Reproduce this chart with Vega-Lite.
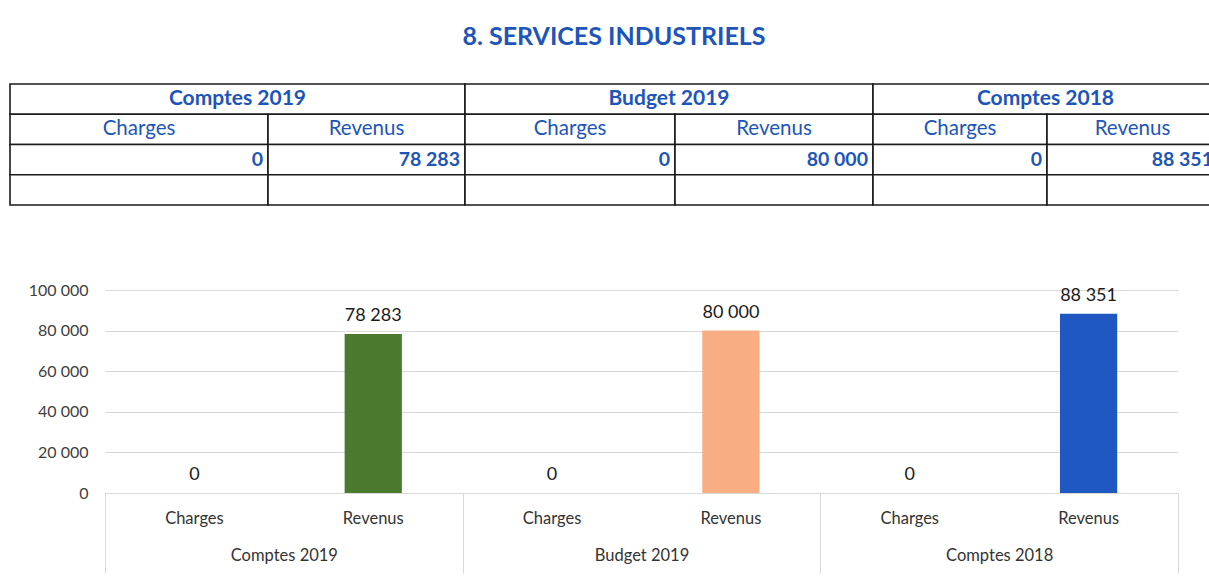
{
  "$schema": "https://vega.github.io/schema/vega-lite/v6.json",
  "background": "white",
  "padding": {"left": 9, "top": 25, "right": 0, "bottom": 0},
  "title": {"text": "8. SERVICES INDUSTRIELS", "font": "Lato", "fontSize": 25, "fontWeight": "bold", "color": "#1D55B8", "anchor": "middle", "offset": 33, "dx": 0},
  "config": {
    "view": {"stroke": null},
    "font": "Lato",
    "locale": {"number": {"decimal": ",", "thousands": " ", "grouping": [3], "currency": ["", " €"]}}
  },
  "datasets": {
    "cells": [
      {"c0": 0, "c1": 2, "r0": 0, "r1": 1}, {"c0": 2, "c1": 4, "r0": 0, "r1": 1}, {"c0": 4, "c1": 6, "r0": 0, "r1": 1},
      {"c0": 0, "c1": 1, "r0": 1, "r1": 2}, {"c0": 1, "c1": 2, "r0": 1, "r1": 2}, {"c0": 2, "c1": 3, "r0": 1, "r1": 2},
      {"c0": 3, "c1": 4, "r0": 1, "r1": 2}, {"c0": 4, "c1": 5, "r0": 1, "r1": 2}, {"c0": 5, "c1": 6, "r0": 1, "r1": 2},
      {"c0": 0, "c1": 1, "r0": 2, "r1": 3}, {"c0": 1, "c1": 2, "r0": 2, "r1": 3}, {"c0": 2, "c1": 3, "r0": 2, "r1": 3},
      {"c0": 3, "c1": 4, "r0": 2, "r1": 3}, {"c0": 4, "c1": 5, "r0": 2, "r1": 3}, {"c0": 5, "c1": 6, "r0": 2, "r1": 3},
      {"c0": 0, "c1": 1, "r0": 3, "r1": 4}, {"c0": 1, "c1": 2, "r0": 3, "r1": 4}, {"c0": 2, "c1": 3, "r0": 3, "r1": 4},
      {"c0": 3, "c1": 4, "r0": 3, "r1": 4}, {"c0": 4, "c1": 5, "r0": 3, "r1": 4}, {"c0": 5, "c1": 6, "r0": 3, "r1": 4}
    ],
    "heads": [
      {"label": "Comptes 2019", "cm": 1, "rm": 0.5},
      {"label": "Budget 2019", "cm": 3, "rm": 0.5},
      {"label": "Comptes 2018", "cm": 5, "rm": 0.5}
    ],
    "subs": [
      {"label": "Charges", "cm": 0.5, "rm": 1.5},
      {"label": "Revenus", "cm": 1.5, "rm": 1.5},
      {"label": "Charges", "cm": 2.5, "rm": 1.5},
      {"label": "Revenus", "cm": 3.5, "rm": 1.5},
      {"label": "Charges", "cm": 4.5, "rm": 1.5},
      {"label": "Revenus", "cm": 5.5, "rm": 1.5}
    ],
    "vals": [
      {"value": 0, "c1": 1, "rm": 2.5},
      {"value": 78283, "c1": 2, "rm": 2.5},
      {"value": 0, "c1": 3, "rm": 2.5},
      {"value": 80000, "c1": 4, "rm": 2.5},
      {"value": 0, "c1": 5, "rm": 2.5},
      {"value": 88351, "c1": 6, "rm": 2.5}
    ],
    "bars": [
      {"key": "Comptes 2019|Charges", "group": "Comptes 2019", "type": "Charges", "value": 0},
      {"key": "Comptes 2019|Revenus", "group": "Comptes 2019", "type": "Revenus", "value": 78283},
      {"key": "Budget 2019|Charges", "group": "Budget 2019", "type": "Charges", "value": 0},
      {"key": "Budget 2019|Revenus", "group": "Budget 2019", "type": "Revenus", "value": 80000},
      {"key": "Comptes 2018|Charges", "group": "Comptes 2018", "type": "Charges", "value": 0},
      {"key": "Comptes 2018|Revenus", "group": "Comptes 2018", "type": "Revenus", "value": 88351}
    ]
  },
  "columns": 1,
  "spacing": 76,
  "concat": [
    {
      "width": 1108,
      "height": 121,
      "resolve": {"scale": {"x": "independent"}},
      "layer": [
        {
          "data": {"name": "cells"},
          "mark": {"type": "rect", "fill": "white", "stroke": "#1a1a1a", "strokeWidth": 1.6},
          "encoding": {
            "x": {"field": "c0", "type": "quantitative", "scale": {"domain": [0, 1, 2, 3, 4, 5, 6], "range": [-95, 163, 360, 570, 768, 942, 1113], "nice": false, "zero": false}, "axis": null},
            "x2": {"field": "c1"},
            "y": {"field": "r0", "type": "quantitative", "scale": {"domain": [0, 4], "range": [0, 121], "nice": false, "zero": false}, "axis": null},
            "y2": {"field": "r1"}
          }
        },
        {
          "data": {"name": "heads"},
          "mark": {"type": "text", "font": "Lato", "fontSize": 21, "fontWeight": "bold", "color": "#1D55B8", "baseline": "middle", "align": "center"},
          "encoding": {
            "x": {"field": "cm", "type": "quantitative", "scale": {"domain": [0, 2, 4, 6], "range": [-95, 360, 768, 1113], "nice": false, "zero": false}, "axis": null},
            "y": {"field": "rm", "type": "quantitative"},
            "text": {"field": "label", "type": "nominal"}
          }
        },
        {
          "data": {"name": "subs"},
          "mark": {"type": "text", "font": "Lato", "fontSize": 20.5, "color": "#1D55B8", "baseline": "middle", "align": "center"},
          "encoding": {
            "x": {"field": "cm", "type": "quantitative", "scale": {"domain": [0, 1, 2, 3, 4, 5, 6], "range": [-95, 163, 360, 570, 768, 942, 1113], "nice": false, "zero": false}, "axis": null},
            "y": {"field": "rm", "type": "quantitative"},
            "text": {"field": "label", "type": "nominal"}
          }
        },
        {
          "data": {"name": "vals"},
          "mark": {"type": "text", "font": "Lato", "fontSize": 19.5, "fontWeight": "bold", "color": "#1D55B8", "baseline": "middle", "align": "right", "dx": -5},
          "encoding": {
            "x": {"field": "c1", "type": "quantitative", "scale": {"domain": [0, 1, 2, 3, 4, 5, 6], "range": [-95, 163, 360, 570, 768, 942, 1113], "nice": false, "zero": false}, "axis": null},
            "y": {"field": "rm", "type": "quantitative"},
            "text": {"field": "value", "type": "quantitative", "format": ",d"}
          }
        }
      ]
    },
    {
      "width": 1073,
      "height": 203,
      "data": {"name": "bars"},
      "layer": [
        {
          "layer": [
            {
              "mark": {"type": "bar", "width": {"band": 0.32}},
              "encoding": {
                "x": {"field": "key", "type": "nominal", "sort": null, "scale": {"paddingInner": 0, "paddingOuter": 0},
                  "axis": {"orient": "bottom", "title": null, "labelExpr": "split(datum.value, '|')[1]", "domain": false, "ticks": false, "labelPadding": 17, "labelFontSize": 16.5, "labelColor": "#333333", "labelAngle": 0, "labelFont": "Lato"}},
                "y": {"field": "value", "type": "quantitative", "scale": {"domain": [0, 100000], "nice": false},
                  "axis": {"title": null, "values": [0, 20000, 40000, 60000, 80000, 100000], "format": ",d", "domain": false, "ticks": false, "labelPadding": 17, "minExtent": 95, "labelFontSize": 16, "labelColor": "#404040", "gridColor": "#d9d9d9", "labelFont": "Lato"}},
                "color": {"field": "group", "type": "nominal",
                  "scale": {"domain": ["Comptes 2019", "Budget 2019", "Comptes 2018"], "range": ["#4A7A2D", "#F8AE82", "#1E58C0"]}, "legend": null}
              }
            },
            {
              "mark": {"type": "text", "baseline": "bottom", "dy": -9, "fontSize": 18, "color": "#1a1a1a", "font": "Lato"},
              "encoding": {
                "x": {"field": "key", "type": "nominal", "sort": null},
                "y": {"field": "value", "type": "quantitative"},
                "text": {"field": "value", "type": "quantitative", "format": ",d"}
              }
            }
          ]
        },
        {
          "mark": {"type": "rule", "opacity": 0},
          "encoding": {
            "x": {"field": "group", "type": "nominal", "sort": null, "scale": {"type": "band", "paddingInner": 0, "paddingOuter": 0},
              "axis": {"orient": "bottom", "title": null, "tickBand": "extent", "tickSize": 80, "tickColor": "#d9d9d9", "domain": false, "labelPadding": -26, "labelFontSize": 16.5, "labelColor": "#333333", "labelAngle": 0, "labelFont": "Lato"}}
          }
        }
      ],
      "resolve": {"scale": {"x": "independent"}}
    }
  ]
}
